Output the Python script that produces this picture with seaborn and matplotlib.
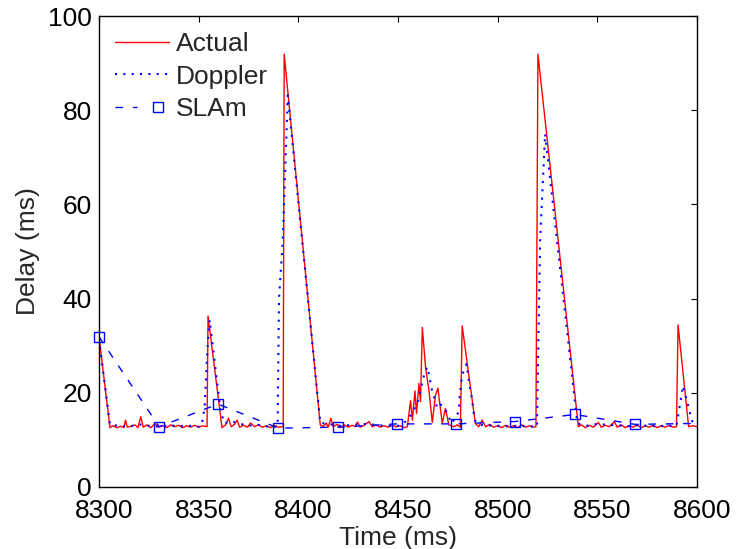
import matplotlib
matplotlib.use('Agg')
import matplotlib.pyplot as plt
from matplotlib.legend_handler import HandlerTuple
from matplotlib.transforms import ScaledTranslation
import seaborn as sns

# Actual measured delay (ms) vs time (ms)
actual_t = [8300, 8305.5, 8307, 8309, 8311, 8312.5, 8313.3, 8314.2, 8316, 8318, 8319.5, 8321, 8322.2,
            8324, 8326, 8328, 8330, 8332, 8334, 8336, 8338, 8340, 8342, 8344, 8346, 8348, 8350, 8352,
            8354.2, 8354.7, 8361.7, 8363.5, 8365, 8366.3, 8368, 8369.3, 8370.5, 8372.5, 8374.5, 8376,
            8378, 8380, 8382, 8384, 8386, 8388, 8390, 8392.4, 8392.9, 8411, 8412.5, 8414, 8415, 8416.3,
            8417.5, 8419.5, 8421, 8423, 8425, 8427, 8428.5, 8429.7, 8431, 8433, 8435.5, 8437, 8439,
            8441, 8443, 8445, 8447, 8449, 8451, 8453, 8454.7, 8456.3, 8457.2, 8458.5, 8459.3, 8460.5,
            8461.3, 8462.2, 8463.8, 8465.5, 8467.2, 8468.8, 8470.0, 8472.2, 8473.8, 8475.5, 8478,
            8479.7, 8481.3, 8482.2, 8488.8, 8490.5, 8492.2, 8494, 8496, 8498, 8500, 8502, 8504, 8506,
            8508, 8510, 8512, 8514, 8516, 8518, 8519.2, 8520.2, 8540.5, 8542, 8544, 8546, 8548, 8550.5,
            8552, 8554, 8556, 8558.5, 8560, 8562, 8564, 8566, 8568, 8570, 8572, 8574, 8576, 8578, 8580,
            8582, 8584, 8586, 8588, 8589.7, 8590.5, 8595.8, 8598, 8600]
actual_ms = [31.9, 12.6, 13.0, 12.6, 12.9, 12.6, 14.2, 12.7, 12.9, 13.2, 12.6, 14.9, 12.7,
             13.2, 12.6, 13.4, 12.7, 13.0, 12.6, 13.2, 12.8, 13.1, 12.6, 13.0, 12.7, 13.1, 12.7, 13.0,
             12.8, 36.3, 12.6, 13.2, 14.6, 12.8, 13.3, 14.2, 12.7, 13.1, 12.7, 13.6,
             12.8, 13.2, 12.7, 13.0, 12.6, 13.1, 12.7, 12.8, 91.9, 13.2, 12.8, 13.6, 12.7, 14.6,
             12.8, 13.3, 12.6, 13.2, 12.7, 13.1, 12.8, 13.8, 12.7, 13.1, 13.9, 12.8, 13.2,
             12.7, 13.0, 12.7, 13.1, 12.8, 13.0, 12.6, 12.8, 18.3, 14.2, 20.4, 15.6, 22.0,
             18.1, 33.9, 25.5, 20.6, 13.7, 19.5, 21.0, 13.5, 16.7, 13.2, 12.8,
             13.2, 12.7, 34.2, 13.5, 12.8, 14.2, 12.8, 13.3, 12.7, 13.0, 12.6, 13.1, 12.7,
             13.0, 12.6, 13.2, 12.7, 13.0, 12.7, 12.8, 91.9, 12.8, 13.2, 12.6, 13.1, 12.7, 13.7,
             12.7, 13.1, 12.8, 13.9, 12.7, 13.2, 12.6, 13.0, 12.7, 13.2, 12.6, 13.0, 12.7, 13.1, 12.6,
             13.0, 12.7, 13.1, 12.7, 12.8, 34.4, 12.8, 13.0, 12.8]

# Doppler estimate
doppler_t = [8300, 8305.5, 8310, 8315, 8320, 8325, 8330, 8335, 8340, 8345, 8350, 8351.5, 8353,
             8354.5, 8355.5, 8361, 8363, 8366, 8370, 8375, 8380, 8385, 8389.6, 8390.3, 8392.2,
             8394.7, 8411, 8415, 8420, 8425, 8430, 8435, 8440, 8445, 8450, 8451.9, 8455.5, 8459.7,
             8463.5, 8464.7, 8466.4, 8467.2, 8468.5, 8469.7, 8471.5, 8473.9, 8477, 8480.5, 8481,
             8482.2, 8484.4, 8485.5, 8486.9, 8488, 8488.9, 8490.5, 8495, 8500, 8505, 8510, 8515,
             8519.7, 8521.3, 8523.8, 8540, 8545, 8550, 8555, 8560, 8565, 8570, 8575, 8580, 8585,
             8589.7, 8593, 8597.5, 8600]
doppler_ms = [31.5, 13.2, 13.0, 12.8, 13.3, 13.0, 12.8, 13.1, 12.9, 13.0, 12.8, 13.0, 17.0,
              30.0, 35.5, 16.0, 13.5, 14.0, 13.5, 13.0, 13.2, 12.8, 12.8, 40.0, 52.4,
              83.2, 13.6, 13.4, 13.0, 13.1, 13.3, 13.4, 13.1, 13.0, 13.0, 13.2, 14.6, 17.8,
              24.5, 25.5, 22.0, 20.2, 18.6, 16.7, 17.5, 16.3, 13.5, 16.0, 19.5,
              23.8, 26.1, 22.7, 19.2, 15.6, 13.9, 13.2, 13.1, 13.0, 12.9, 13.0, 12.9,
              12.8, 52.4, 75.0, 13.5, 13.0, 13.4, 13.2, 13.1, 12.9, 13.1, 13.0, 12.9, 13.0,
              13.0, 21.5, 14.0, 13.2]

# SLAm estimate (sampled every ~30 ms), the line runs on to the right edge
slam_t = [8300, 8330.2, 8359.7, 8390, 8419.7, 8449.3, 8479.2, 8508.8, 8538.8, 8568.8]
slam_ms = [31.9, 12.8, 17.6, 12.5, 12.7, 13.4, 13.4, 13.9, 15.4, 13.3]
slam_end_t = 8600
slam_end_ms = 13.5

x_ticks = [8300, 8350, 8400, 8450, 8500, 8550, 8600]
y_ticks = [0, 20, 40, 60, 80, 100]

sns.set_style('white')
plt.rcParams['font.family'] = ['Liberation Sans', 'DejaVu Sans']
fs = 19

fig = plt.figure(figsize=(7.38, 5.49), dpi=100)
ax = fig.add_axes([99 / 738, 62 / 549, 598 / 738, 471 / 549])

sns.lineplot(x=actual_t, y=actual_ms, ax=ax, color='#ff0000', lw=1.0,
             estimator=None, sort=False, label='Actual')
sns.lineplot(x=doppler_t, y=doppler_ms, ax=ax, color='#0000ff', lw=1.5,
             linestyle=(0, (1, 3)), estimator=None, sort=False, label='Doppler')
sns.lineplot(x=slam_t + [slam_end_t], y=slam_ms + [slam_end_ms], ax=ax, color='#0000ff', lw=1.0,
             linestyle=(0, (5.5, 7)), estimator=None, sort=False)
sns.lineplot(x=slam_t, y=slam_ms, ax=ax, color='#0000ff', linestyle='none', marker='s',
             markersize=6.7, markerfacecolor='none', markeredgecolor='#0000ff',
             markeredgewidth=1.0, estimator=None, sort=False, clip_on=False)

ax.set_xlim(8300, 8600)
ax.set_ylim(0, 100)
ax.set_xticks(x_ticks)
ax.set_yticks(y_ticks)
ax.tick_params(direction='in', length=4, width=0.8, top=True, right=True,
               labelsize=fs, colors='black')
ax.tick_params(axis='x', pad=9)
ax.tick_params(axis='y', pad=5)
# the x tick labels sit a little right of their ticks in the original
shift = ScaledTranslation(5 / 100, 0, fig.dpi_scale_trans)
for lbl in ax.get_xticklabels():
    lbl.set_transform(lbl.get_transform() + shift)
for s in ax.spines.values():
    s.set_color('black')
    s.set_linewidth(1.0)
ax.set_xlabel('Time (ms)', fontsize=fs, labelpad=2)
ax.set_ylabel('Delay (ms)', fontsize=fs, labelpad=6)

lines = ax.get_lines()
handles = [lines[0], lines[1], (lines[2], lines[3])]
ax.legend(handles, ['Actual', 'Doppler', 'SLAm'], loc='upper left', frameon=False,
          fontsize=fs, handlelength=2.05, handletextpad=0.28, labelspacing=0.33,
          borderaxespad=0.2, numpoints=1, handler_map={tuple: HandlerTuple(ndivide=None)})

fig.savefig('out.png', dpi=100)
